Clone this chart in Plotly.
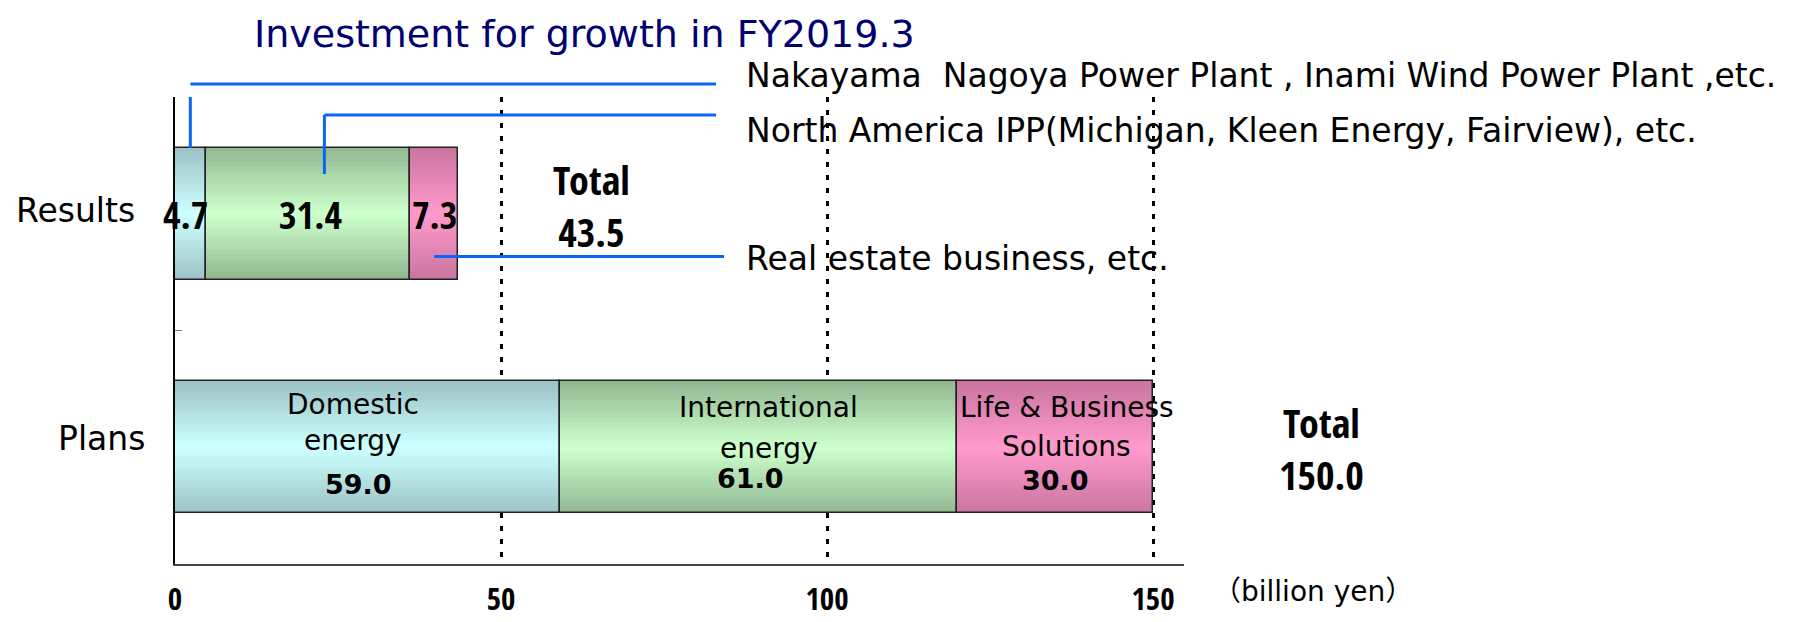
import plotly.graph_objects as go

# ---------------- data ----------------
categories = ["Plans", "Results"]
segments = ["Domestic energy", "International energy", "Life & Business Solutions"]
plans_values = [59.0, 61.0, 30.0]
results_values = [4.7, 31.4, 7.3]
plans_total = 150.0
results_total = 43.5
x_tick_values = [0, 50, 100, 150]
x_tick_labels = ["0", "50", "100", "150"]
plans_label_lines = [["Domestic", "energy"], ["International", "energy"], ["Life & Business", "Solutions"]]
callout_texts = [
    "Nakayama  Nagoya Power Plant , Inami Wind Power Plant ,etc.",
    "North America IPP(Michigan, Kleen Energy, Fairview), etc.",
    "Real estate business, etc.",
]
title_text = "Investment for growth in FY2019.3"
total_word = "Total"
unit_text = "（billion yen）"
edge_colors = ["#9dc3c6", "#93b993", "#cb76a0"]
center_colors = ["#ccffff", "#ccffcc", "#ff99cc"]

# ---------------- geometry (reference page pixels) ----------------
OFF = 8  # default page margin around the plot div
W, H = 1794, 622
L, R, T, B = 175, 610, 97, 58
PW, PH = W - L - R, H - T - B
XMAX = 154.75
BW = 0.565
REG = "DejaVu Sans, Verdana, sans-serif"
NARROW = "Open Sans Condensed, Liberation Sans, sans-serif"


def px_x(px):
    return (px - L) / PW


def px_y(py):
    return (H - B - py) / PH


def hex2rgb(h):
    h = h.lstrip("#")
    return [int(h[i:i + 2], 16) for i in (0, 2, 4)]


def lerp(c1, c2, t):
    a, b = hex2rgb(c1), hex2rgb(c2)
    return "rgb(%d,%d,%d)" % tuple(round(a[i] + (b[i] - a[i]) * t) for i in range(3))


seg_vals = [[plans_values[i], results_values[i]] for i in range(3)]
bases = [[sum(plans_values[:i]), sum(results_values[:i])] for i in range(3)]

fig = go.Figure()
N = 18
for i in range(3):
    for k in range(N):
        t = k / (N - 1)
        fig.add_trace(go.Bar(
            y=categories, x=seg_vals[i], base=bases[i], orientation="h",
            width=BW * (1 - k / N), marker=dict(color=lerp(edge_colors[i], center_colors[i], t), line=dict(width=0)),
            showlegend=False, hoverinfo="skip",
        ))
for i in range(3):
    fig.add_trace(go.Bar(
        y=categories, x=seg_vals[i], base=bases[i], orientation="h", width=BW,
        marker=dict(color="rgba(0,0,0,0)", line=dict(color="#222222", width=1.5)),
        showlegend=False, name=segments[i],
    ))

ann = []


def add(text, x, y, size, family=REG, color="black", xref="paper", xanchor="center"):
    ann.append(dict(text=text, xref=xref, yref="paper", x=x, y=y, xanchor=xanchor, yanchor="middle",
                    showarrow=False, font=dict(family=family, size=size, color=color)))


add(title_text, px_x(252), px_y(34), 38, color="#000070", xanchor="left")
add("Results", px_x(75.5), px_y(210), 33)
add("Plans", px_x(101), px_y(438), 33)
res_offsets = [-0.8, 0.4, 0.1]
for i in range(3):
    add("<b>%.1f</b>" % results_values[i], bases[i][1] + results_values[i] / 2 + res_offsets[i], px_y(214), 38,
        family=NARROW, xref="x")
name_off = [-2.2, 1.6, 1.8]
num_off = [-1.3, -1.3, 0.0]
name_py = [[404, 440], [408, 448], [407, 446]]
num_py = [484, 478, 480]
for i in range(3):
    c = bases[i][0] + plans_values[i] / 2
    for j, line in enumerate(plans_label_lines[i]):
        add(line, c + name_off[i], px_y(name_py[i][j]), 28, xref="x")
    add("<b>%.1f</b>" % plans_values[i], c + num_off[i], px_y(num_py[i]), 27, xref="x")
# totals
add("<b>%s<br>%.1f</b>" % (total_word, results_total), px_x(591), px_y(205), 40, family=NARROW)
add("<b>%s<br>%.1f</b>" % (total_word, plans_total), px_x(1321), px_y(448), 40, family=NARROW)
for txt, py in zip(callout_texts, [75, 130, 259]):
    add(txt, px_x(744), px_y(py), 33, xanchor="left")
add(unit_text, px_x(1313), px_y(591), 28, family="DejaVu Sans, Noto Sans CJK JP")

blue = dict(color="#0a64f5", width=3)
bar_top = 1 + BW / 2
end_x = (716 - L) / PW * XMAX
x1 = bases[0][1] + results_values[0] / 2
x2 = bases[1][1] + results_values[1] * 0.58
x3 = bases[2][1] + results_values[2] / 2
shapes = [
    dict(type="line", xref="x", yref="y", x0=x1, x1=x1, y0=bar_top, y1=1.5 + (T - 84) / (PH / 2), line=blue),
    dict(type="line", xref="x", yref="paper", x0=x1, x1=end_x, y0=px_y(84), y1=px_y(84), line=blue),
    dict(type="line", xref="x", yref="paper", x0=x2, x1=x2, y0=px_y(174), y1=px_y(115), line=blue),
    dict(type="line", xref="x", yref="paper", x0=x2, x1=end_x, y0=px_y(115), y1=px_y(115), line=blue),
    dict(type="line", xref="x", yref="paper", x0=x3, x1=(724 - L) / PW * XMAX, y0=px_y(256.5), y1=px_y(256.5), line=blue),
]

fig.update_layout(
    width=W - OFF, height=H - OFF, barmode="overlay", bargap=0,
    margin=dict(l=L - OFF, r=R, t=T - OFF, b=B, pad=0, autoexpand=False),
    paper_bgcolor="white", plot_bgcolor="white",
    annotations=ann, shapes=shapes, showlegend=False,
    xaxis=dict(range=[0, XMAX], tickvals=x_tick_values, ticktext=x_tick_labels, automargin=False,
               tickfont=dict(family=NARROW, size=31, color="black", weight="bold"),
               ticks="outside", ticklen=7, tickcolor="rgba(0,0,0,0)",
               showgrid=True, gridcolor="black", gridwidth=2.5, griddash="5px,8px",
               zeroline=False, showline=True, linecolor="#444444", linewidth=2, fixedrange=True),
    yaxis=dict(range=[-0.5, 1.5], type="category", categoryorder="array", categoryarray=categories,
               automargin=False,
               showticklabels=False, ticks="inside", tickson="boundaries", ticklen=7, tickcolor="#808080",
               showgrid=False, zeroline=False, showline=True, linecolor="black", linewidth=1.5, fixedrange=True),
)

fig.write_html("out.html")
